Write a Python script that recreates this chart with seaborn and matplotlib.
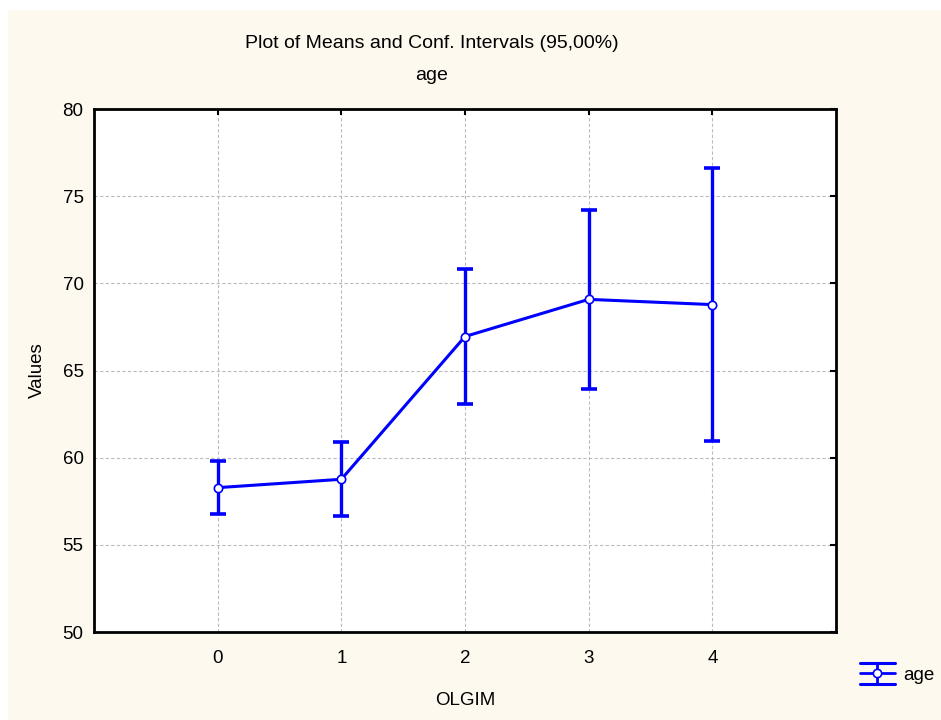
import matplotlib
matplotlib.use("Agg")
import matplotlib.pyplot as plt
import seaborn as sns
import pandas as pd
from matplotlib.patches import Rectangle
from matplotlib.lines import Line2D
from matplotlib.legend_handler import HandlerBase

# Group means of age by OLGIM stage and half-widths of the 95% CIs
olgim = [0, 1, 2, 3, 4]
age_mean = [58.28, 58.76, 66.95, 69.08, 68.78]
ci_half = [1.52, 2.13, 3.86, 5.15, 7.85]
y_ticks = [50, 55, 60, 65, 70, 75, 80]

df = pd.DataFrame({"OLGIM": olgim, "age": age_mean, "ci": ci_half})

sns.set_theme(style="white")
plt.rcParams["font.family"] = ["Liberation Sans", "DejaVu Sans"]
plt.rcParams["text.color"] = "black"
plt.rcParams["axes.labelcolor"] = "black"

FS = 13.5
blue = "#0000FF"


class MeanCIHandler(HandlerBase):
    """Legend key: whisker with wide caps and a hollow mean marker."""

    def create_artists(self, legend, orig_handle, xdescent, ydescent,
                       width, height, fontsize, trans):
        x0, x1 = -xdescent, -xdescent + width
        xm = (x0 + x1) / 2
        yc = -ydescent + height / 2
        h = height * 0.8
        arts = [
            Line2D([x0, x1], [yc + h, yc + h], color=blue, lw=2.2),
            Line2D([x0, x1], [yc - h, yc - h], color=blue, lw=2.2),
            Line2D([xm, xm], [yc - h, yc + h], color=blue, lw=2.0),
            Line2D([x0, x1], [yc, yc], color=blue, lw=2.0),
            Line2D([xm], [yc], marker="o", markersize=6, markerfacecolor="white",
                   markeredgecolor=blue, markeredgewidth=1.2, linestyle="none"),
        ]
        for a in arts:
            a.set_transform(trans)
        return arts


fig = plt.figure(figsize=(9.41, 7.2), dpi=100)
fig.patch.set_facecolor("white")
# cream panel behind the chart
fig.patches.append(Rectangle((8 / 941, 0), 1, 1 - 10 / 720, transform=fig.transFigure,
                             facecolor="#FEF9EE", edgecolor="none", zorder=-10))

ax = fig.add_axes([94 / 941, 1 - 632 / 720, (836 - 94) / 941, (632 - 109) / 720])
ax.set_facecolor("white")

sns.lineplot(data=df, x="OLGIM", y="age", ax=ax, color=blue, linewidth=2.2,
             marker="o", markersize=6, markerfacecolor="white",
             markeredgecolor=blue, markeredgewidth=1.2, zorder=4)
eb = ax.errorbar(df["OLGIM"], df["age"], yerr=df["ci"], fmt="none", ecolor=blue,
                 elinewidth=2.4, capsize=6, capthick=2.6, zorder=3)

ax.set_xlim(-1, 5)
ax.set_ylim(50, 80)
ax.set_xticks(olgim)
ax.set_yticks(y_ticks)
ax.grid(True, color="#BBBBBB", linestyle=(0, (3, 2)), linewidth=0.8)
ax.set_axisbelow(True)

for s in ax.spines.values():
    s.set_visible(True)
    s.set_color("black")
    s.set_linewidth(2.0)

ax.tick_params(axis="both", which="major", direction="in", length=4, width=1.5,
               colors="black", labelsize=FS, top=True, right=True,
               labeltop=False, labelright=False)
ax.tick_params(axis="x", pad=13)
ax.tick_params(axis="y", pad=7.5)
ax.set_xlabel("OLGIM", fontsize=FS, labelpad=18)
ax.set_ylabel("Values", fontsize=FS, labelpad=12)

fig.text(432 / 941, 1 - 43 / 720, "Plot of Means and Conf. Intervals (95,00%)",
         ha="center", va="center", fontsize=14)
fig.text(432 / 941, 1 - 75 / 720, "age", ha="center", va="center", fontsize=14)

fig.legend(handles=[Line2D([], [])], labels=["age"], loc="center left",
           bbox_to_anchor=(843 / 941, 1 - 675 / 720), frameon=False,
           fontsize=FS, handlelength=1.87, handletextpad=0.45,
           borderaxespad=0.5, borderpad=0.4,
           handler_map={Line2D: MeanCIHandler()})

fig.savefig("out.png", dpi=100, facecolor=fig.get_facecolor())
